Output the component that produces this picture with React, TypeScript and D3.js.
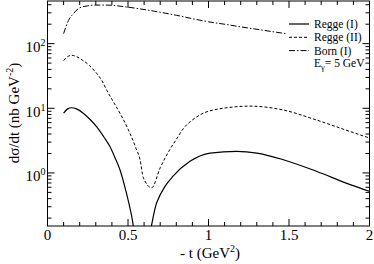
import * as d3 from "d3";

// -t values (GeV^2) and dσ/dt (nb GeV^-2)
const reggeIT = [0.1, 0.125, 0.15, 0.18, 0.222, 0.26, 0.305, 0.35, 0.388, 0.42, 0.45, 0.49, 0.523, 0.555, 0.61, 0.678, 0.73, 0.78, 0.885, 1.01, 1.175, 1.3, 1.465, 1.67, 1.88, 2.0];
const reggeIV = [8.4, 9.8, 10.2, 9.8, 8.4, 6.9, 5.2, 3.6, 2.56, 1.7, 1.12, 0.49, 0.215, 0.08, 0.08, 0.345, 0.62, 0.89, 1.51, 2.03, 2.15, 2.03, 1.6, 1.06, 0.66, 0.52];

const reggeIIT = [0.1, 0.125, 0.15, 0.18, 0.22, 0.26, 0.3, 0.337, 0.368, 0.41, 0.45, 0.512, 0.55, 0.575, 0.595, 0.647, 0.7, 0.76, 0.8, 0.845, 0.9, 0.947, 1.09, 1.258, 1.465, 1.67, 1.88, 2.0];
const reggeIIV = [55, 63, 66, 63, 55, 46, 36, 27, 19, 12.5, 8.4, 4.1, 2.4, 1.6, 0.85, 0.59, 1.2, 2.3, 3.3, 4.9, 6.6, 7.9, 10, 10.8, 9.4, 6.6, 4.37, 3.47];

const bornT = [0.1, 0.13, 0.16, 0.2, 0.25, 0.3, 0.37, 0.47, 0.575, 0.7, 0.8, 0.905, 1.0, 1.11, 1.2, 1.32, 1.4, 1.48];
const bornV = [143, 228, 290, 358, 385, 395, 395, 375, 345, 306, 275, 242, 218, 198, 182, 164, 153, 143];

const xTicks = [0, 0.5, 1, 1.5, 2];
const xTickLabels = ["0", "0.5", "1", "1.5", "2"];
const yDecades = [0, 1, 2];

const legendLabels = ["Regge (I)", "Regge (II)", "Born (I)"];
const legendDash = ["none", "3,2", "6,2,1.5,2"];

const font = "Liberation Serif, DejaVu Serif, serif";

export default function App() {
  const W = 374;
  const H = 264;
  const left = 47.5;
  const right = 369.5;
  const top = 1;
  const bottom = 226;

  const x = d3.scaleLinear().domain([0, 2]).range([left, right]);
  const y = d3.scaleLog().domain([0.151, 457]).range([bottom, top]);

  const line = d3
    .line<[number, number]>()
    .x((d) => x(d[0]))
    .y((d) => y(d[1]))
    .curve(d3.curveMonotoneX);

  const series = [
    { t: reggeIT, v: reggeIV, dash: legendDash[0], w: 1.2 },
    { t: reggeIIT, v: reggeIIV, dash: legendDash[1], w: 1 },
    { t: bornT, v: bornV, dash: legendDash[2], w: 1 },
  ];

  // minor x ticks every 0.1
  const xMinor = d3.range(0, 2.0001, 0.1).filter((t) => Math.abs(t * 2 - Math.round(t * 2)) > 1e-6);
  // minor log ticks
  const yMinor: number[] = [];
  [-1, 0, 1, 2].forEach((e) => {
    for (let k = 2; k <= 9; k++) {
      const v = k * Math.pow(10, e);
      if (v >= 0.151 && v <= 457) yMinor.push(v);
    }
  });

  const stroke = "#000";
  const txt = { fontFamily: font };

  return (
    <svg width={W} height={H} style={{ position: "absolute", left: 0, top: 0 }}>
      <defs>
        <clipPath id="plotClip">
          <rect x={left} y={top} width={right - left} height={bottom - top} />
        </clipPath>
      </defs>
      <rect x={0} y={0} width={W} height={H} fill="#fff" />

      {/* ticks */}
      <g stroke={stroke} strokeWidth={1}>
        {xTicks.map((t) => (
          <g key={"xt" + t}>
            <line x1={x(t)} x2={x(t)} y1={bottom} y2={bottom - 7} />
            <line x1={x(t)} x2={x(t)} y1={top} y2={top + 7} />
          </g>
        ))}
        {xMinor.map((t) => (
          <g key={"xm" + t}>
            <line x1={x(t)} x2={x(t)} y1={bottom} y2={bottom - 4} />
            <line x1={x(t)} x2={x(t)} y1={top} y2={top + 4} />
          </g>
        ))}
        {yDecades.map((e) => (
          <g key={"yt" + e}>
            <line x1={left} x2={left + 7} y1={y(Math.pow(10, e))} y2={y(Math.pow(10, e))} />
            <line x1={right} x2={right - 7} y1={y(Math.pow(10, e))} y2={y(Math.pow(10, e))} />
          </g>
        ))}
        {yMinor.map((v) => (
          <g key={"ym" + v}>
            <line x1={left} x2={left + 4} y1={y(v)} y2={y(v)} />
            <line x1={right} x2={right - 4} y1={y(v)} y2={y(v)} />
          </g>
        ))}
      </g>

      {/* curves */}
      <g clipPath="url(#plotClip)" fill="none" stroke={stroke}>
        {series.map((s, i) => (
          <path
            key={i}
            d={line(s.t.map((t, j) => [t, s.v[j]] as [number, number])) || ""}
            strokeWidth={s.w}
            strokeDasharray={s.dash}
          />
        ))}
      </g>

      {/* frame */}
      <rect x={left} y={top} width={right - left} height={bottom - top} fill="none" stroke={stroke} strokeWidth={1} />

      {/* x tick labels */}
      <g style={txt} fontSize={15} textAnchor="middle" fill="#000">
        {xTicks.map((t, i) => (
          <text key={t} x={x(t)} y={240}>
            {xTickLabels[i]}
          </text>
        ))}
      </g>

      {/* y tick labels */}
      <g style={txt} fontSize={15} fill="#000">
        {yDecades.map((e) => (
          <text key={e} x={25.5} y={y(Math.pow(10, e)) + 8.5}>
            10
            <tspan fontSize={10} dy={-6}>
              {e}
            </tspan>
          </text>
        ))}
      </g>

      {/* axis titles */}
      <text x={210} y={258} style={txt} fontSize={15} textAnchor="middle">
        - t (GeV
        <tspan fontSize={10} dy={-6}>2</tspan>
        <tspan dy={6}>)</tspan>
      </text>
      <text
        transform={`translate(18.5,113) rotate(-90)`}
        style={txt}
        fontSize={15}
        textAnchor="middle"
      >
        dσ/dt (nb GeV
        <tspan fontSize={10} dy={-6}>-2</tspan>
        <tspan dy={6}>)</tspan>
      </text>

      {/* legend */}
      <g style={txt} fontSize={11.5} fill="#000">
        {legendLabels.map((lab, i) => (
          <g key={lab}>
            <line
              x1={289}
              x2={309}
              y1={24 + i * 13.3}
              y2={24 + i * 13.3}
              stroke={stroke}
              strokeWidth={i === 0 ? 1.2 : 1}
              strokeDasharray={legendDash[i]}
            />
            <text x={314} y={28 + i * 13.3}>
              {lab}
            </text>
          </g>
        ))}
        <text x={314} y={67}>
          E
          <tspan fontSize={8.5} dy={3}>γ</tspan>
          <tspan dy={-3}>= 5 GeV</tspan>
        </text>
      </g>
    </svg>
  );
}
